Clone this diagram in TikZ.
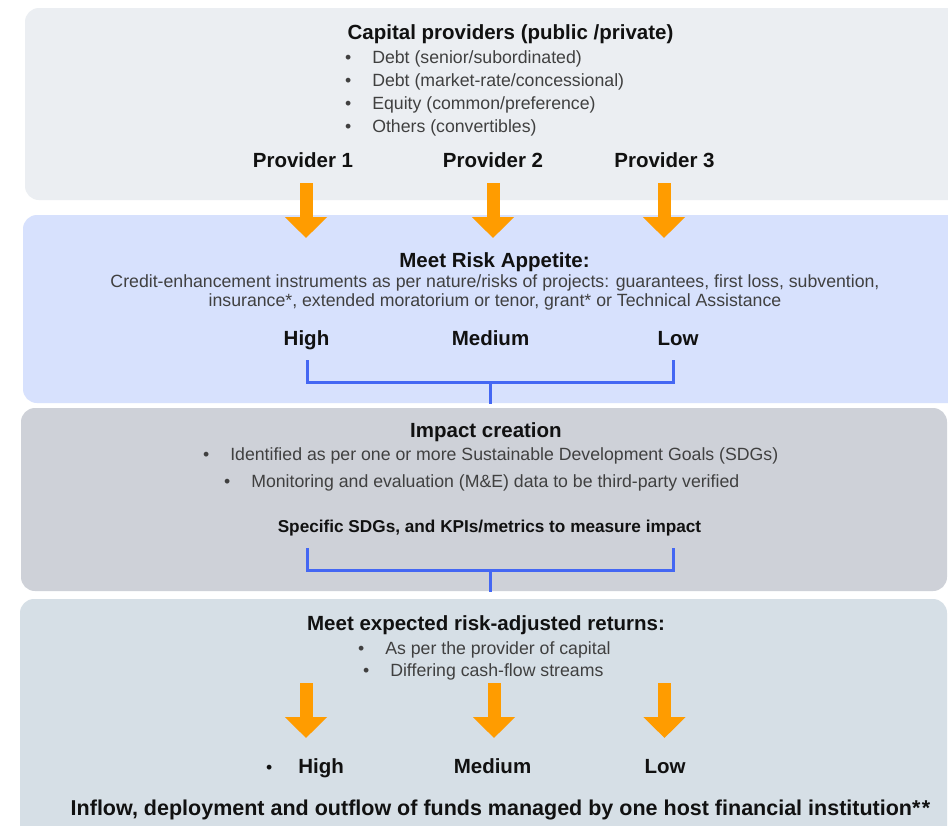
\documentclass[tikz,border=0pt]{standalone}
\usepackage{fontspec}
\setmainfont{Liberation Sans}
\usetikzlibrary{arrows.meta}
\definecolor{pA}{HTML}{EBEEF2}
\definecolor{pB}{HTML}{D7E1FD}
\definecolor{pC}{HTML}{CED1D8}
\definecolor{pD}{HTML}{D6DFE6}
\definecolor{orangeA}{HTML}{FF9C00}
\definecolor{bluebr}{HTML}{4467F3}
\definecolor{bodygray}{HTML}{404040}
\definecolor{hdblack}{HTML}{111111}
\tikzset{
  panel/.style={rounded corners=14pt, draw=none},
  hd/.style={font=\fontsize{20.5}{24}\selectfont\bfseries, text=hdblack, inner sep=0pt, anchor=base},
  hdsmall/.style={font=\fontsize{17.2}{20}\selectfont\bfseries, text=hdblack, inner sep=0pt, anchor=base},
  bd/.style={font=\fontsize{17.7}{21}\selectfont, text=bodygray, inner sep=0pt, anchor=base},
  bdw/.style={bd, anchor=base west},
  flowarrow/.style={draw=orangeA, line width=13pt, -{Triangle[width=41pt,length=21pt]}},
  bracket/.style={draw=bluebr, line width=3pt}
}
\begin{document}
\begin{tikzpicture}[x=1pt,y=-1pt]
\useasboundingbox (0,0) rectangle (948,825);
\fill[white] (0,0) rectangle (948,825);
% panels
\fill[panel, fill=pA] (25,8) rectangle (990,200);
\fill[panel, fill=pB] (23,215) rectangle (990,403);
\fill[panel, fill=pC] (21,408) rectangle (947,591);
\fill[panel, fill=pD] (20,599) rectangle (947,860);

% panel 1
\node[hd] (cap) at (510.5,39.5) {Capital providers (public /private)};
\node[bdw] (b1) at (345,63) {\textbullet\hspace{20.9pt}Debt (senior/subordinated)};
\node[bdw] (b2) at (345,86) {\textbullet\hspace{20.9pt}Debt (market-rate/concessional)};
\node[bdw] (b3) at (345,109) {\textbullet\hspace{20.9pt}Equity (common/preference)};
\node[bdw] (b4) at (345,132) {\textbullet\hspace{20.9pt}Others (convertibles)};
\node[hd] (pr1) at (303,167.5) {Provider 1};
\node[hd] (pr2) at (493,167.5) {Provider 2};
\node[hd] (pr3) at (664.5,167.5) {Provider 3};

% top arrows
\coordinate (a1s) at (306,183); \coordinate (a1e) at (306,238);
\coordinate (a2s) at (493,183); \coordinate (a2e) at (493,238);
\coordinate (a3s) at (664,183); \coordinate (a3e) at (664,238);
\draw[flowarrow] (a1s) -- (a1e);
\draw[flowarrow] (a2s) -- (a2e);
\draw[flowarrow] (a3s) -- (a3e);

% panel 2
\node[hd] (risk) at (494.5,267) {Meet Risk Appetite:};
\node[bd] (cr1) at (495,287.5) {Credit-enhancement instruments as per nature/risks of projects: guarantees, first loss, subvention,};
\node[bd] (cr2) at (495,306.5) {insurance*, extended moratorium or tenor, grant* or Technical Assistance};
\node[hd] (rh) at (306.5,345) {High};
\node[hd] (rm) at (490.5,345) {Medium};
\node[hd] (rl) at (678,345) {Low};
\coordinate (k1a) at (307,360); \coordinate (k1b) at (673,360);
\coordinate (k1m) at (490,382); \coordinate (k1d) at (490,404);
\draw[bracket] (k1a) |- (k1m) -| (k1b);
\draw[bracket] (k1m) -- (k1d);

% panel 3
\node[hd] (imp) at (486,437) {Impact creation};
\node[bdw] (i1) at (203,460.5) {\textbullet\hspace{20.9pt}Identified as per one or more Sustainable Development Goals (SDGs)};
\node[bdw] (i2) at (224,487.5) {\textbullet\hspace{20.9pt}Monitoring and evaluation (M\&E) data to be third-party verified};
\node[hdsmall] (sdg) at (489.5,532) {Specific SDGs, and KPIs/metrics to measure impact};
\coordinate (k2a) at (307,548); \coordinate (k2b) at (673,548);
\coordinate (k2m) at (490,570); \coordinate (k2d) at (490,592);
\draw[bracket] (k2a) |- (k2m) -| (k2b);
\draw[bracket] (k2m) -- (k2d);

% panel 4
\node[hd] (ret) at (486,630) {Meet expected risk-adjusted returns:};
\node[bdw] (r1) at (358,654.5) {\textbullet\hspace{20.9pt}As per the provider of capital};
\node[bdw] (r2) at (363,676.5) {\textbullet\hspace{20.9pt}Differing cash-flow streams};
\coordinate (c1s) at (306,683); \coordinate (c1e) at (306,738);
\coordinate (c2s) at (494,683); \coordinate (c2e) at (494,738);
\coordinate (c3s) at (664.5,683); \coordinate (c3e) at (664.5,738);
\draw[flowarrow] (c1s) -- (c1e);
\draw[flowarrow] (c2s) -- (c2e);
\draw[flowarrow] (c3s) -- (c3e);
\node[hd, anchor=base west] (oh) at (266,773) {{\fontsize{17.7}{21}\selectfont\mdseries\textbullet}\hspace{25.9pt}High};
\node[hd] (om) at (492.5,773) {Medium};
\node[hd] (ol) at (665,773) {Low};
\node[hd, font=\fontsize{21.5}{25}\selectfont\bfseries] (inflow) at (500.5,815) {Inflow, deployment and outflow of funds managed by one host financial institution*\kern1.5pt*};
\end{tikzpicture}
\end{document}
